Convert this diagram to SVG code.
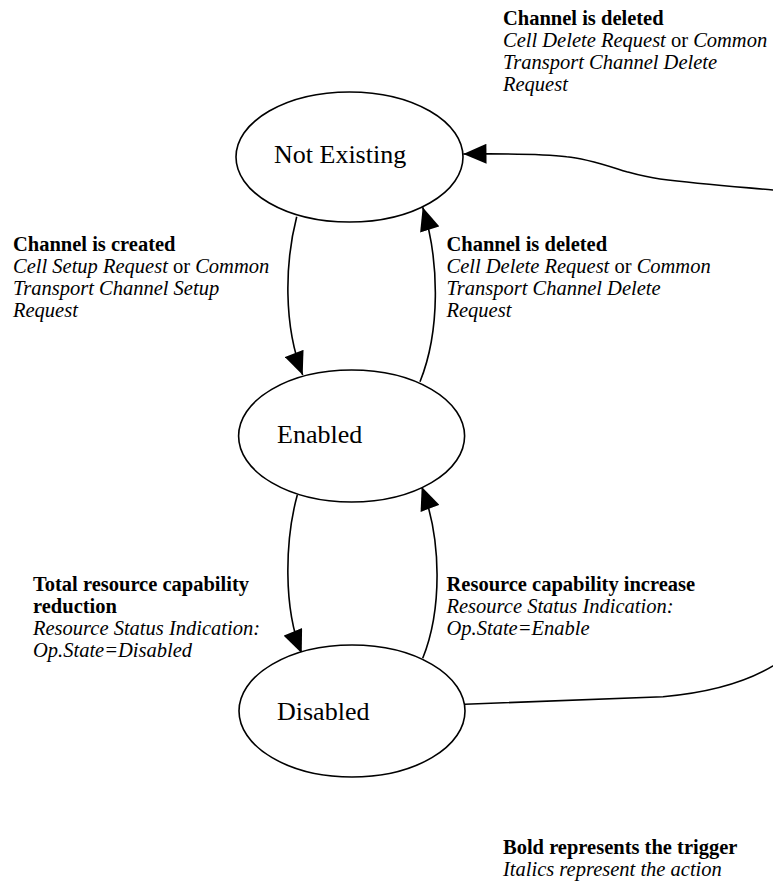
<svg xmlns="http://www.w3.org/2000/svg" width="773" height="881" viewBox="0 0 773 881">
<style>
text { font-family: "Liberation Serif", "Times New Roman", serif; fill: #000; }
.node { font-size: 26px; }
.lbl { font-size: 20.5px; }
.b { font-weight: bold; }
.i { font-style: italic; }
.st { fill: #fff; stroke: #000; stroke-width: 1.6; }
.edge { fill: none; stroke: #000; stroke-width: 1.6; marker-end: url(#arrow); }
</style>
<defs>
<marker id="arrow" markerUnits="userSpaceOnUse" markerWidth="24" markerHeight="20" refX="22" refY="9.5" orient="auto" viewBox="0 0 22 19">
<path d="M0,0 L22,9.5 L0,19 Z" fill="#000"/>
</marker>
</defs>
<rect width="773" height="881" fill="#fff"/>
<g id="connectors">
<path class="edge" d="M296.7,216.7 C285,262 283,325 302.7,375"/>
<path class="edge" d="M420,381.7 C440,332 440,262 422.7,207.3"/>
<path class="edge" d="M297.3,495 C285,540 283,608 301.7,653.3"/>
<path class="edge" d="M422.7,658.3 C442,610 442,540 421.7,486.7"/>
<path class="edge" d="M465,704.3 L663,696.7 C705,693 748,684 782,660 C795,650 800,640 800,620 L800,215 C800,197 790,191 773,190 C740,187 700,184 660,179 C645,177 635,174 626.7,171.7 C605,165 585,158 566.7,156.7 C545,154 515,153.5 463.3,154"/>
</g>
<g id="node-not-existing">
<ellipse class="st" cx="349.5" cy="157" rx="113.5" ry="65"/>
<text class="node" x="274" y="163">Not Existing</text>
</g>
<g id="node-enabled">
<ellipse class="st" cx="351.6" cy="436" rx="113" ry="66"/>
<text class="node" x="277" y="443">Enabled</text>
</g>
<g id="node-disabled">
<ellipse class="st" cx="352" cy="711" rx="113" ry="66"/>
<text class="node" x="277" y="720">Disabled</text>
</g>
<g id="label-top-deleted">
<text class="lbl b" x="503" y="25">Channel is deleted</text>
<text class="lbl" x="503" y="47"><tspan class="i">Cell Delete Request</tspan> or <tspan class="i">Common</tspan></text>
<text class="lbl i" x="503" y="69">Transport Channel Delete</text>
<text class="lbl i" x="503" y="91">Request</text>
</g>
<g id="label-created">
<text class="lbl b" x="13" y="251">Channel is created</text>
<text class="lbl" x="13" y="273"><tspan class="i">Cell Setup Request</tspan> or <tspan class="i">Common</tspan></text>
<text class="lbl i" x="13" y="295">Transport Channel Setup</text>
<text class="lbl i" x="13" y="317">Request</text>
</g>
<g id="label-mid-deleted">
<text class="lbl b" x="446.5" y="251">Channel is deleted</text>
<text class="lbl" x="446.5" y="273"><tspan class="i">Cell Delete Request</tspan> or <tspan class="i">Common</tspan></text>
<text class="lbl i" x="446.5" y="295">Transport Channel Delete</text>
<text class="lbl i" x="446.5" y="317">Request</text>
</g>
<g id="label-reduction">
<text class="lbl b" x="33" y="591">Total resource capability</text>
<text class="lbl b" x="33" y="613">reduction</text>
<text class="lbl i" x="33" y="635">Resource Status Indication:</text>
<text class="lbl i" x="33" y="657">Op.State=Disabled</text>
</g>
<g id="label-increase">
<text class="lbl b" x="446.5" y="591">Resource capability increase</text>
<text class="lbl i" x="446.5" y="613">Resource Status Indication:</text>
<text class="lbl i" x="446.5" y="635">Op.State=Enable</text>
</g>
<g id="legend">
<text class="lbl b" x="503" y="854">Bold represents the trigger</text>
<text class="lbl i" x="503" y="876">Italics represent the action</text>
</g>
</svg>
